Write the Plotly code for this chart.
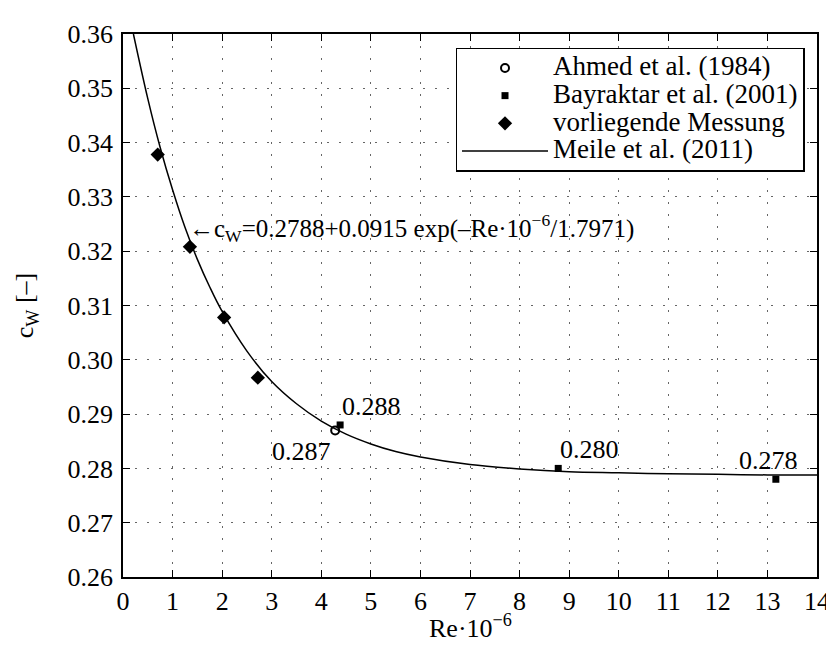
import plotly.graph_objects as go

# ---- data ----
ahmed_re = [4.28]
ahmed_cw = [0.287]

bayraktar_re = [4.38, 8.78, 13.17]
bayraktar_cw = [0.288, 0.280, 0.278]

messung_re = [0.70, 1.35, 2.04, 2.72]
messung_cw = [0.3378, 0.3208, 0.3078, 0.2967]

meile_re = [0.21, 0.5, 0.75, 1.0, 1.25, 1.5, 1.75, 2.0, 2.5, 3.0, 3.5, 4.0, 4.5,
            5.0, 5.5, 6.0, 7.0, 8.0, 9.0, 10.0, 11.0, 12.0, 13.0, 14.0]
meile_cw = [0.3600, 0.3481, 0.3391, 0.3313, 0.3244, 0.3185, 0.3134, 0.3089, 0.3016,
            0.2960, 0.2919, 0.2887, 0.2863, 0.2845, 0.2831, 0.2821, 0.2807, 0.2799,
            0.2794, 0.2792, 0.2790, 0.2789, 0.2788, 0.2788]

series_names = ["Ahmed et al. (1984)", "Bayraktar et al. (2001)",
                "vorliegende Messung", "Meile et al. (2011)"]

x_ticks = list(range(0, 15))
y_ticks = [0.26, 0.27, 0.28, 0.29, 0.30, 0.31, 0.32, 0.33, 0.34, 0.35, 0.36]
y_ticklabels = ["0.26", "0.27", "0.28", "0.29", "0.30", "0.31", "0.32", "0.33", "0.34", "0.35", "0.36"]

value_labels = ["0.287", "0.288", "0.280", "0.278"]
value_label_x = [2.97, 4.38, 8.78, 12.38]
value_label_y = [0.2831, 0.2914, 0.2835, 0.2815]

formula_text = "←c<sub>W</sub>=0.2788+0.0915 exp(–Re·10<sup>−6</sup>/1.7971)"
formula_x = 1.30
formula_y = 0.3243

x_title = "Re·10<sup>−6</sup>"
y_title = "c<sub>W</sub> [–]"

FONT = "Times New Roman, Liberation Serif, Times, serif"
FS = 26


def big(name):
    return "<span style='font-size:27px'>" + name + "</span>"


fig = go.Figure()
fig.add_trace(go.Scatter(x=ahmed_re, y=ahmed_cw, mode="markers", name=big(series_names[0]),
                         marker=dict(symbol="circle-open", size=8, color="black", line=dict(width=2, color="black"))))
fig.add_trace(go.Scatter(x=bayraktar_re, y=bayraktar_cw, mode="markers", name=big(series_names[1]),
                         marker=dict(symbol="square", size=7, color="black")))
fig.add_trace(go.Scatter(x=messung_re, y=messung_cw, mode="markers", name=big(series_names[2]),
                         marker=dict(symbol="diamond", size=11, color="black")))
fig.add_trace(go.Scatter(x=meile_re, y=meile_cw, mode="lines", name=big(series_names[3]),
                         line=dict(color="black", width=1.5, shape="spline")))

for t, x, y in zip(value_labels, value_label_x, value_label_y):
    fig.add_annotation(x=x, y=y, text=t, showarrow=False, xanchor="left", yanchor="middle",
                       font=dict(family=FONT, size=FS, color="black"))
fig.add_annotation(x=formula_x, y=formula_y, text=formula_text, showarrow=False,
                   xanchor="left", yanchor="middle", font=dict(family=FONT, size=25, color="black"))

# x-axis title as paper annotation near the bottom edge
fig.add_annotation(x=0.5, y=-0.124, xref="paper", yref="paper", text=x_title, showarrow=False,
                   xanchor="center", yanchor="bottom", borderpad=0,
                   font=dict(family=FONT, size=FS, color="black"))

axis_common = dict(showline=True, linecolor="black", linewidth=1.5, mirror="ticks",
                   ticks="inside", ticklen=7, tickwidth=1.2, tickcolor="black",
                   showgrid=True, gridcolor="#666", gridwidth=1, griddash="2px,10px",
                   zeroline=False, tickfont=dict(family=FONT, size=FS, color="black"))

fig.update_xaxes(range=[0, 14], tickvals=x_ticks, ticktext=[str(v) for v in x_ticks],
                 **axis_common)
fig.update_yaxes(range=[0.26, 0.36], tickvals=y_ticks, ticktext=y_ticklabels, ticklabelstandoff=3,
                 title=dict(text=y_title, font=dict(family=FONT, size=FS, color="black"), standoff=26),
                 **axis_common)

fig.update_layout(width=834, height=646, margin=dict(l=115, r=13, t=18, b=77),
                  plot_bgcolor="white", paper_bgcolor="white",
                  font=dict(family=FONT, size=FS, color="black"),
                  legend=dict(x=0.982, y=0.975, xanchor="right", yanchor="top",
                              bordercolor="black", borderwidth=1.5, bgcolor="white",
                              font=dict(family=FONT, size=19, color="black"),
                              itemwidth=86, tracegroupgap=0),
                  showlegend=True)

fig.write_html("out.html")
